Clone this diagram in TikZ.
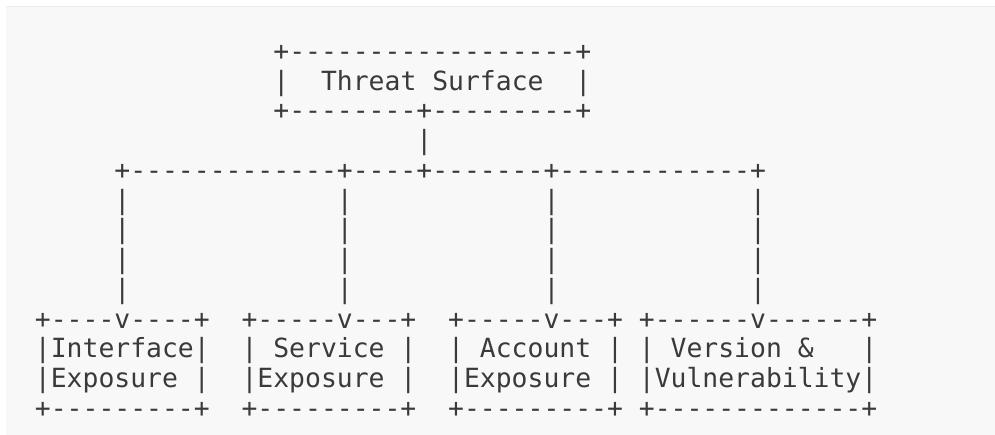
\documentclass[tikz,border=0pt]{standalone}
\usepackage{fontspec}
\setmonofont{DejaVu Sans Mono}
\usepackage{tikz}
\definecolor{pageback}{HTML}{F8F8F8}
\definecolor{pageedge}{HTML}{EBEBEB}
\definecolor{asciiink}{HTML}{3A3A3A}
\tikzstyle{asciirow}=[anchor=base west,inner sep=0pt,text=asciiink,font=\ttfamily\fontsize{26.4}{30}\selectfont]
\newcommand{\rowgap}{29.75}
\newcommand{\colzero}{34.75}

\begin{document}
\begin{tikzpicture}[x=1pt,y=1pt]
    \useasboundingbox (0,0) rectangle (995,435);
    \fill[white] (0,0) rectangle (995,435);
    \fill[pageback] (6,0) rectangle (995,428);
    \draw[pageedge,line width=1pt] (6,428) -- (995,428);
%   top box
    \node[asciirow] (surfacetop)    at (\colzero,{374.7-0*\rowgap}) {~~~~~~~~~~~~~~~+------------------+};
    \node[asciirow] (surfacelabel)  at (\colzero,{374.7-1*\rowgap}) {~~~~~~~~~~~~~~~|~~Threat Surface~~|};
    \node[asciirow] (surfacebottom) at (\colzero,{374.7-2*\rowgap}) {~~~~~~~~~~~~~~~+--------+---------+};
%   trunk and branches
    \node[asciirow] (trunk)  at (\colzero,{374.7-3*\rowgap}) {~~~~~~~~~~~~~~~~~~~~~~~~|};
    \node[asciirow] (branch) at (\colzero,{374.7-4*\rowgap}) {~~~~~+-------------+----+-------+------------+};
    \node[asciirow] (drop1)  at (\colzero,{374.7-5*\rowgap}) {~~~~~|~~~~~~~~~~~~~|~~~~~~~~~~~~|~~~~~~~~~~~~|};
    \node[asciirow] (drop2)  at (\colzero,{374.7-6*\rowgap}) {~~~~~|~~~~~~~~~~~~~|~~~~~~~~~~~~|~~~~~~~~~~~~|};
    \node[asciirow] (drop3)  at (\colzero,{374.7-7*\rowgap}) {~~~~~|~~~~~~~~~~~~~|~~~~~~~~~~~~|~~~~~~~~~~~~|};
    \node[asciirow] (drop4)  at (\colzero,{374.7-8*\rowgap}) {~~~~~|~~~~~~~~~~~~~|~~~~~~~~~~~~|~~~~~~~~~~~~|};
%   bottom boxes
    \node[asciirow] (leaftop)    at (\colzero,{374.7-9*\rowgap})  {+----v----+~~+-----v---+~~+-----v---+~+------v------+};
    \node[asciirow] (leafname)   at (\colzero,{374.7-10*\rowgap}) {|Interface|~~|~Service~|~~|~Account~|~|~Version~\&~~~|};
    \node[asciirow] (leafkind)   at (\colzero,{374.7-11*\rowgap}) {|Exposure~|~~|Exposure~|~~|Exposure~|~|Vulnerability|};
    \node[asciirow] (leafbottom) at (\colzero,{374.7-12*\rowgap}) {+---------+~~+---------+~~+---------+~+-------------+};
\end{tikzpicture}
\end{document}
